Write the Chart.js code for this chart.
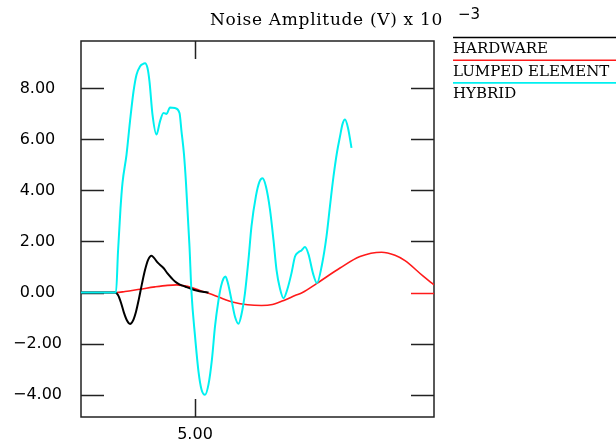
<!DOCTYPE html>
<html>
<head>
<meta charset="utf-8">
<script src="https://cdn.jsdelivr.net/npm/chart.js@4"></script>
<style>
  body { margin: 0; background: #fff; }
  canvas { display: block; }
</style>
</head>
<body>
<canvas id="noise-chart" width="616" height="441"></canvas>
<script>
// values (x in plot units, y in mV)
const hardwareX = [2.72, 3.40, 3.46, 3.52, 3.58, 3.64, 3.70, 3.76, 3.82, 3.88, 3.94, 4.00, 4.06, 4.13, 4.18, 4.25, 4.37, 4.45, 4.53, 4.60, 4.67, 4.75, 4.83, 4.93, 5.03, 5.15, 5.27];
const hardwareY = [0, 0, -0.10, -0.40, -0.80, -1.10, -1.23, -1.10, -0.75, -0.23, 0.35, 0.88, 1.27, 1.44, 1.36, 1.18, 0.96, 0.75, 0.57, 0.43, 0.34, 0.27, 0.21, 0.14, 0.08, 0.03, 0];

const lumpedX = [2.72, 3.42, 3.60, 3.90, 4.20, 4.45, 4.63, 4.85, 5.10, 5.30, 5.50, 5.77, 6.05, 6.33, 6.55, 6.80, 7.00, 7.15, 7.43, 7.90, 8.30, 8.73, 9.00, 9.20, 9.57, 9.78];
const lumpedY = [0, 0, 0.04, 0.13, 0.22, 0.28, 0.30, 0.24, 0.08, -0.05, -0.20, -0.38, -0.48, -0.51, -0.47, -0.29, -0.12, 0, 0.35, 0.96, 1.41, 1.58, 1.46, 1.25, 0.63, 0.30];

const hybridX = [2.72, 3.42, 3.46, 3.51, 3.55, 3.63, 3.70, 3.77, 3.83, 3.90, 3.95, 4.00, 4.05, 4.09, 4.15, 4.23, 4.30, 4.37, 4.43, 4.50, 4.60, 4.69, 4.73, 4.78, 4.82, 4.89, 4.93, 5.00, 5.07, 5.13, 5.20, 5.27, 5.34, 5.40, 5.47, 5.52, 5.57, 5.61, 5.66, 5.73, 5.80, 5.87, 5.93, 6.00, 6.07, 6.13, 6.22, 6.29, 6.35, 6.42, 6.50, 6.57, 6.63, 6.70, 6.77, 6.85, 6.93, 7.00, 7.07, 7.13, 7.20, 7.27, 7.36, 7.44, 7.54, 7.63, 7.70, 7.77, 7.84, 7.90, 7.95, 8.00, 8.06, 8.13];
const hybridY = [0, 0, 1.60, 3.30, 4.30, 5.40, 6.71, 7.88, 8.54, 8.86, 8.95, 8.99, 8.80, 8.27, 6.97, 6.19, 6.71, 7.04, 7.00, 7.25, 7.23, 7.04, 6.32, 5.41, 4.29, 1.80, 0, -1.70, -3.10, -3.80, -4.01, -3.60, -2.60, -1.33, -0.30, 0.24, 0.55, 0.63, 0.35, -0.29, -0.95, -1.22, -0.85, -0.01, 1.30, 2.60, 3.80, 4.35, 4.48, 4.15, 3.25, 2.05, 0.89, 0.15, -0.22, 0.15, 0.76, 1.41, 1.58, 1.65, 1.78, 1.50, 0.75, 0.37, 1.10, 2.20, 3.40, 4.55, 5.50, 6.12, 6.60, 6.78, 6.45, 5.67];

const yTickValues = [-4, -2, 0, 2, 4, 6, 8];
const xTickValues = [5];

const titleText = 'Noise Amplitude (V) x 10';
const titleExp = '\u22123';
const seriesNames = ['HARDWARE', 'LUMPED ELEMENT', 'HYBRID'];
const seriesColors = ['#000000', '#ff1a1a', '#00f0f0'];

const toPoints = (xs, ys) => xs.map((x, i) => ({ x: x, y: ys[i] }));
const fmt = v => (v < 0 ? '\u2212' : '') + Math.abs(v).toFixed(2);

// frame box with inward ticks on all four sides
const framePlugin = {
    id: 'frame',
    beforeDatasetsDraw(chart) {
        const { ctx, chartArea: a, scales } = chart;
        ctx.save();
        ctx.strokeStyle = '#222';
        ctx.lineWidth = 1.5;
        ctx.strokeRect(a.left, a.top, a.right - a.left, a.bottom - a.top);
        yTickValues.forEach(v => {
            const py = Math.round(scales.y.getPixelForValue(v)) + 0.5;
            ctx.beginPath();
            ctx.moveTo(a.left, py); ctx.lineTo(a.left + 23, py);
            ctx.stroke();
            ctx.strokeStyle = v === 0 ? seriesColors[1] : '#222';
            ctx.beginPath();
            ctx.moveTo(a.right - 23, py); ctx.lineTo(a.right, py);
            ctx.stroke();
            ctx.strokeStyle = '#222';
        });
        xTickValues.forEach(v => {
            const px = Math.round(scales.x.getPixelForValue(v)) + 0.5;
            ctx.beginPath();
            ctx.moveTo(px, a.top); ctx.lineTo(px, a.top + 18);
            ctx.moveTo(px, a.bottom - 18); ctx.lineTo(px, a.bottom);
            ctx.stroke();
        });
        ctx.restore();
    }
};

// title with superscript exponent, legend at the right
const annotatePlugin = {
    id: 'annotate',
    afterDraw(chart) {
        const { ctx } = chart;
        ctx.save();
        ctx.fillStyle = '#000';
        ctx.textBaseline = 'alphabetic';
        ctx.font = '17px "DejaVu Serif"';
        const w = ctx.measureText(titleText).width;
        ctx.letterSpacing = ((233 - w) / titleText.length).toFixed(2) + 'px';
        ctx.fillText(titleText, 210, 25);
        ctx.letterSpacing = '0px';
        ctx.font = '15px "DejaVu Sans"';
        ctx.fillText(titleExp, 458, 19);

        ctx.font = '15px "DejaVu Serif"';
        seriesNames.forEach((name, i) => {
            const ly = 37.5 + i * 22.7;
            ctx.strokeStyle = seriesColors[i];
            ctx.lineWidth = 1.6;
            ctx.beginPath();
            ctx.moveTo(453, ly); ctx.lineTo(616, ly);
            ctx.stroke();
            ctx.fillText(name, 453, ly + 15.5);
        });
        ctx.restore();
    }
};

const chart = new Chart(document.getElementById('noise-chart'), {
    type: 'line',
    data: {
        datasets: [
            { label: seriesNames[0], data: toPoints(hardwareX, hardwareY), borderColor: seriesColors[0], borderWidth: 2, order: 1 },
            { label: seriesNames[1], data: toPoints(lumpedX, lumpedY), borderColor: seriesColors[1], borderWidth: 1.6, order: 2 },
            { label: seriesNames[2], data: toPoints(hybridX, hybridY), borderColor: seriesColors[2], borderWidth: 2, order: 0 }
        ]
    },
    options: {
        responsive: false,
        animation: false,
        devicePixelRatio: 1,
        layout: { padding: { top: 41, right: 182, bottom: 0, left: 0 } },
        elements: {
            point: { radius: 0 },
            line: { cubicInterpolationMode: 'monotone', fill: false }
        },
        plugins: { legend: { display: false }, tooltip: { enabled: false }, title: { display: false } },
        scales: {
            x: {
                type: 'linear',
                min: 2.72,
                max: 9.78,
                grid: { display: false, drawTicks: false },
                border: { display: false },
                afterBuildTicks: s => { s.ticks = xTickValues.map(v => ({ value: v })); },
                afterFit: s => { s.height = 24; s.paddingLeft = 0; s.paddingRight = 0; },
                ticks: {
                    padding: 8,
                    color: '#000',
                    font: { family: 'DejaVu Sans', size: 16 },
                    callback: v => fmt(v)
                }
            },
            y: {
                min: -4.88,
                max: 9.86,
                grid: { display: false, drawTicks: false },
                border: { display: false },
                afterBuildTicks: s => { s.ticks = yTickValues.map(v => ({ value: v })); },
                afterFit: s => { s.width = 81; s.paddingTop = 0; s.paddingBottom = 0; },
                ticks: {
                    padding: 19,
                    crossAlign: 'center',
                    color: '#000',
                    font: { family: 'DejaVu Sans', size: 16 },
                    callback: v => fmt(v)
                }
            }
        }
    },
    plugins: [framePlugin, annotatePlugin]
});
</script>
</body>
</html>
